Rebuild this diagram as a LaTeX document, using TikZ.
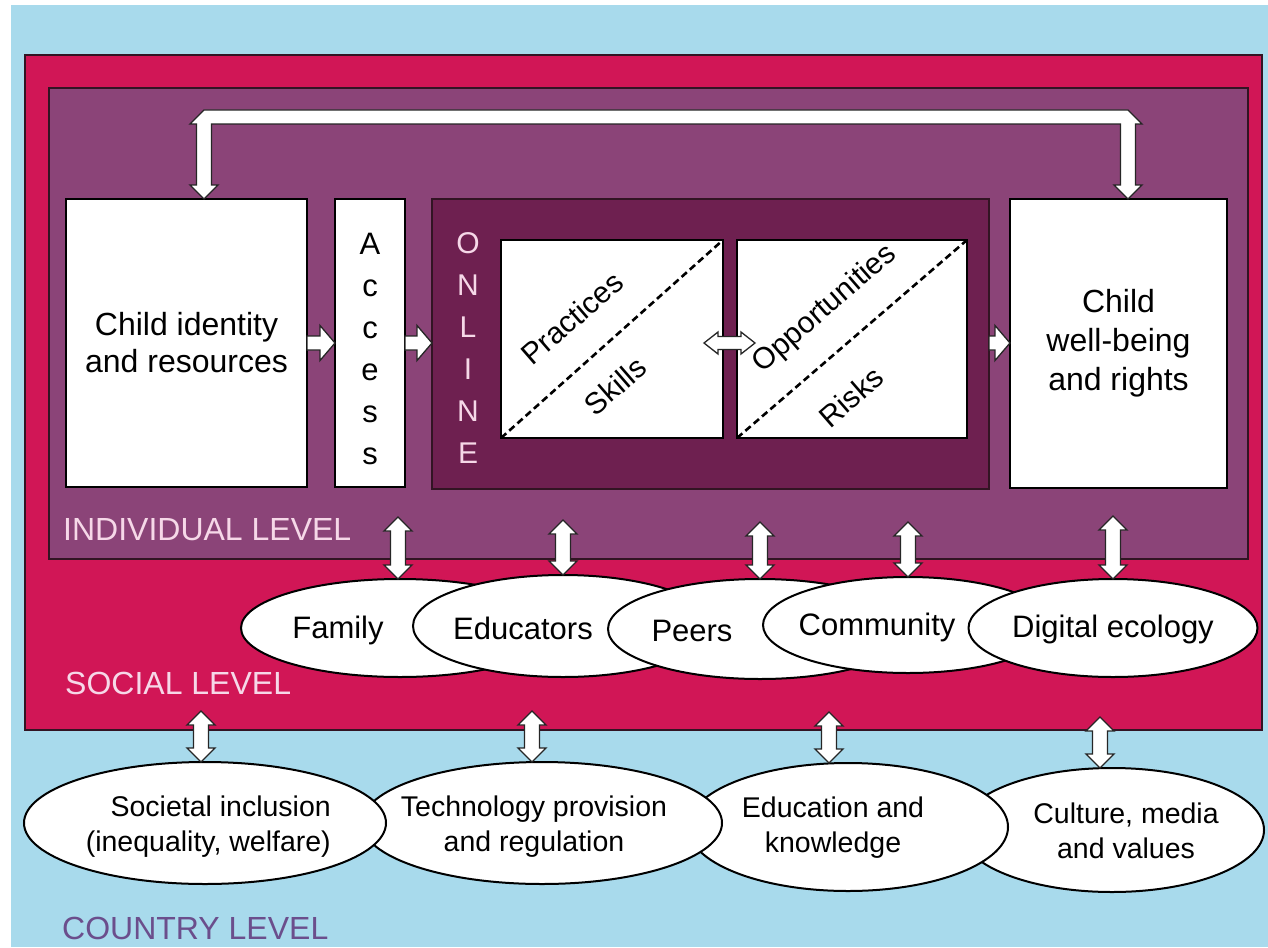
\documentclass[tikz,border=0pt]{standalone}
\usepackage{fontspec}
\setmainfont{Liberation Sans}
\usetikzlibrary{shapes.geometric,calc}
\definecolor{skyb}{RGB}{168,218,236}
\definecolor{crim}{RGB}{209,22,86}
\definecolor{purp}{RGB}{139,68,120}
\definecolor{onl}{RGB}{110,32,80}
\definecolor{pinkl}{RGB}{246,216,232}
\definecolor{ctry}{RGB}{107,78,140}
\definecolor{edge}{RGB}{50,20,35}
\def\ahh{14pt}\def\ash{7.5pt}\def\ahl{14pt}
\newcommand\VDArrow[2]{%
  \path[blockarr] let \p1=(#1), \p2=(#2) in
   (\x1,\y1) -- (\x1+\ahh,\y1-\ahl) -- (\x1+\ash,\y1-\ahl) -- (\x1+\ash,\y2+\ahl)
   -- (\x1+\ahh,\y2+\ahl) -- (\x1,\y2) -- (\x1-\ahh,\y2+\ahl) -- (\x1-\ash,\y2+\ahl)
   -- (\x1-\ash,\y1-\ahl) -- (\x1-\ahh,\y1-\ahl) -- cycle;}
\newcommand\HArrow[2]{%
  \path[blockarr] let \p1=(#1), \p2=(#2) in
   (\x1,\y1+7pt) -- (\x2-15pt,\y1+7pt) -- (\x2-15pt,\y1+17.5pt) -- (\x2,\y1)
   -- (\x2-15pt,\y1-17.5pt) -- (\x2-15pt,\y1-7pt) -- (\x1,\y1-7pt) -- cycle;}
\newcommand\HDArrow[2]{%
  \path[blockarr] let \p1=(#1), \p2=(#2) in
   (\x1,\y1) -- (\x1+14pt,\y1+11pt) -- (\x1+14pt,\y1+6.5pt) -- (\x2-14pt,\y1+6.5pt)
   -- (\x2-14pt,\y1+11pt) -- (\x2,\y1) -- (\x2-14pt,\y1-11pt) -- (\x2-14pt,\y1-6.5pt)
   -- (\x1+14pt,\y1-6.5pt) -- (\x1+14pt,\y1-11pt) -- cycle;}
\begin{document}
\begin{tikzpicture}[x=1pt,y=-1pt,
  frame/.style={draw=edge,line width=1.5pt},
  box/.style={draw=black,line width=2pt,fill=white,inner sep=0pt,outer sep=0pt,align=center},
  boxtext/.style={font=\fontsize{32}{37}\selectfont},
  inbox/.style={draw=black,line width=2pt,fill=white,inner sep=0pt,outer sep=0pt},
  blockarr/.style={fill=white,draw=black!85,line width=1.3pt,line join=miter},
  soc/.style={ellipse,draw=black,line width=2pt,fill=white,inner sep=0pt,outer sep=0pt},
  soctext/.style={font=\fontsize{31}{36}\selectfont,inner sep=0pt},
  ctytext/.style={font=\fontsize{28.5}{35}\selectfont,inner sep=0pt,align=center},
  lvl/.style={font=\fontsize{32}{36}\selectfont,inner sep=0pt,anchor=west},
  diag/.style={line width=2.6pt,dash pattern=on 7pt off 4pt},
  rottext/.style={rotate=41,font=\fontsize{30}{34}\selectfont,inner sep=0pt}]
\useasboundingbox (0,0) rectangle (1268,947);
\fill[white] (0,0) rectangle (1268,947);
\fill[skyb] (11,5) rectangle (1268,947);
\draw[frame,fill=crim] (25,55) rectangle (1262,730);
\draw[frame,fill=purp] (49,88) rectangle (1248,559);
% individual level boxes
\node[box,boxtext,minimum width=241pt,minimum height=288pt] (child) at (186.5,343) {Child identity\\and resources};
\node[box,minimum width=70pt,minimum height=288pt] (access) at (370,343) {};
\node[font=\fontsize{31}{42}\selectfont,align=center,inner sep=0pt] (acctext) at (370,348.5) {A\\c\\c\\e\\s\\s};
\node[draw=edge,line width=1.5pt,fill=onl,minimum width=557pt,minimum height=290pt,inner sep=0pt,outer sep=0pt] (online) at (710.5,344) {};
\node[font=\fontsize{30}{42}\selectfont,align=center,inner sep=0pt,text=pinkl] (onltext) at (468,348.5) {O\\N\\L\\I\\N\\E};
\node[inbox,minimum width=222pt,minimum height=198pt] (prac) at (612,339) {};
\node[inbox,minimum width=230pt,minimum height=198pt] (opp) at (852,339) {};
\draw[diag] (prac.south west) -- (prac.north east);
\draw[diag] (opp.south west) -- (opp.north east);
\node[rottext] (practxt) at (572,318) {Practices};
\node[rottext] (skltxt) at (615,386) {Skills};
\node[rottext] (opptxt) at (825,309) {Opportunities};
\node[rottext] (risktxt) at (851,397) {Risks};
\node[box,font=\fontsize{32}{39}\selectfont,minimum width=217pt,minimum height=289pt] (wb) at (1118.5,343.5) {Child\\well-being\\and rights};
% arrows inside individual level
\HArrow{child.east}{access.west}
\HArrow{access.east}{online.west}
\path (online.east |- 0,343) coordinate (oe) (wb.west |- 0,343) coordinate (ww);
\HArrow{oe}{ww}
\coordinate (ppl) at (704,343);
\coordinate (ppr) at (755,343);
\HDArrow{ppl}{ppr}
% top connector
\coordinate (tl) at (204,110);
\coordinate (tr) at (1128,110);
\path[blockarr] let \p1=(tl), \p2=(tl |- child.north), \p3=(tr) in
 (\x1,\y1) -- (\x3,\y1) -- (\x3+\ahh,\y1-\ahl) -- (\x3+\ash,\y1-\ahl) -- (\x3+\ash,\y2+\ahl)
 -- (\x3+\ahh,\y2+\ahl) -- (\x3,\y2) -- (\x3-\ahh,\y2+\ahl) -- (\x3-\ash,\y2+\ahl)
 -- (\x3-\ash,\y1-\ahl) -- (\x1+\ash,\y1-\ahl) -- (\x1+\ash,\y2+\ahl) -- (\x1+\ahh,\y2+\ahl)
 -- (\x1,\y2) -- (\x1-\ahh,\y2+\ahl) -- (\x1-\ash,\y2+\ahl) -- (\x1-\ash,\y1-\ahl)
 -- (\x1-\ahh,\y1-\ahl) -- cycle;
\node[lvl,text=pinkl] (indlbl) at (63,530) {INDIVIDUAL LEVEL};
% social level
\node[soc,minimum width=318pt,minimum height=98pt] (fam) at (400,628) {};
\node[soctext] (famt) at (338,630) {Family};
\node[soc,minimum width=300pt,minimum height=102pt] (edu) at (563,626) {};
\node[soctext] (edut) at (523,628) {Educators};
\node[soc,minimum width=304pt,minimum height=100pt] (peer) at (760,629) {};
\node[soctext] (peert) at (692,631) {Peers};
\node[soc,minimum width=290pt,minimum height=96pt] (comm) at (908,625) {};
\node[soctext] (commt) at (877,627) {Community};
\node[soc,minimum width=289pt,minimum height=98pt] (dig) at (1113,628) {};
\node[soctext] (digt) at (1113,629) {Digital ecology};
\coordinate (af) at (398,517);
\coordinate (ae) at (563,520);
\coordinate (ap) at (760,522);
\coordinate (ac) at (908,522);
\coordinate (ad) at (1113,516);
\VDArrow{af}{af |- fam.north}
\VDArrow{ae}{ae |- edu.north}
\VDArrow{ap}{ap |- peer.north}
\VDArrow{ac}{ac |- comm.north}
\VDArrow{ad}{ad |- dig.north}
\node[lvl,text=pinkl] (soclbl) at (65,683) {SOCIAL LEVEL};
% country level
\node[soc,minimum width=304pt,minimum height=124pt] (cult) at (1112,830) {};
\node[ctytext] (cultt) at (1126,831) {Culture, media\\and values};
\node[soc,minimum width=320pt,minimum height=128pt] (educ) at (848,827) {};
\node[ctytext] (euct) at (833,828) {Education and\\knowledge};
\node[soc,minimum width=360pt,minimum height=122pt] (tech) at (542,823) {};
\node[ctytext] (techt) at (534,827) {Technology provision\\and regulation};
\node[soc,minimum width=362pt,minimum height=122pt] (soci) at (205,823) {};
\node[ctytext,align=right,anchor=east] (socit) at (331,827) {Societal inclusion\\(inequality, welfare)};
\coordinate (bs) at (201,711);
\coordinate (bt) at (532,711);
\coordinate (be) at (829,712);
\coordinate (bc) at (1100,717);
\VDArrow{bs}{bs |- soci.north}
\VDArrow{bt}{bt |- tech.north}
\VDArrow{be}{be |- educ.north}
\VDArrow{bc}{bc |- cult.north}
\node[lvl,text=ctry] (ctylbl) at (62,928) {COUNTRY LEVEL};
\end{tikzpicture}
\end{document}
